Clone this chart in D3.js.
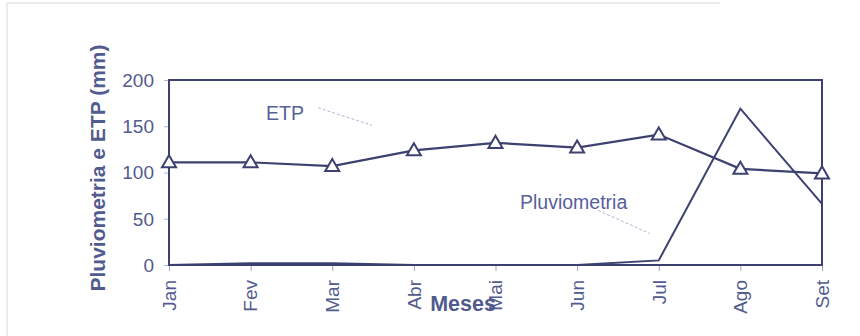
<!DOCTYPE html>
<html><head><meta charset="utf-8">
<script src="https://cdn.jsdelivr.net/npm/d3@7"></script>
<style>body{margin:0;background:#fff}svg{display:block}</style>
</head><body>
<script>
const months = ["Jan","Fev","Mar","Abr","Mai","Jun","Jul","Ago","Set"];
const etp = [111, 111, 107, 124, 132, 127, 141, 104, 99];
const pluv = [0, 2, 2, 0, 0, 0, 5, 169, 66];
const yTicks = [0, 50, 100, 150, 200];

const W = 860, H = 336;
const lineCol = "#3c4170", textCol = "#525b8e";
const font = "Liberation Sans, Arial, sans-serif";
const svg = d3.select("body").append("svg").attr("width", W).attr("height", H);

// faint scan border
svg.append("path").attr("d", "M7,336 V3 H720").attr("fill","none").attr("stroke","#e4e5ea").attr("stroke-width",1.5);

const x = d3.scalePoint().domain(months).range([169, 822]);
const y = d3.scaleLinear().domain([0, 200]).range([265, 80]);

// ticks
const gx = svg.append("g").attr("transform","translate(0,265)")
  .call(d3.axisBottom(x).tickSize(6).tickFormat(""));
gx.select(".domain").remove();
gx.selectAll("line").attr("stroke","#9aa0c0").attr("stroke-width",1);
const gy = svg.append("g").attr("transform","translate(169,0)")
  .call(d3.axisLeft(y).tickValues(yTicks).tickSize(5).tickFormat(""));
gy.select(".domain").remove();
gy.selectAll("line").attr("stroke","#b0b4cc").attr("stroke-width",1);

// frame
svg.append("rect").attr("x", x("Jan")).attr("y", y(200))
  .attr("width", x("Set") - x("Jan")).attr("height", y(0) - y(200))
  .attr("fill","none").attr("stroke", lineCol).attr("stroke-width", 2);

// y tick labels
svg.selectAll(".yl").data(yTicks).join("text")
  .attr("x", 154).attr("y", d => y(d)).attr("dy","0.36em")
  .attr("text-anchor","end").attr("font-family", font)
  .attr("font-size", 19).attr("fill", textCol).text(d => d);

// x tick labels rotated
svg.selectAll(".xl").data(months).join("text")
  .attr("transform", d => `translate(${x(d)},280) rotate(-90)`)
  .attr("dy","0.36em").attr("text-anchor","end")
  .attr("font-family", font)
  .attr("font-size", 19).attr("fill", textCol).text(d => d);

// axis titles
svg.append("text").attr("transform","translate(97,168) rotate(-90)")
  .attr("dy","0.36em").attr("text-anchor","middle")
  .attr("font-family", font).attr("font-weight","bold")
  .attr("font-size", 21).attr("fill", textCol).text("Pluviometria e ETP (mm)");
svg.append("text").attr("x", 463).attr("y", 311).attr("text-anchor","middle")
  .attr("font-family", font).attr("font-weight","bold")
  .attr("font-size", 21.5).attr("fill", textCol).text("Meses");

// lines
const line = d3.line().x((d,i) => x(months[i])).y(d => y(d));
svg.append("path").datum(pluv).attr("d", line).attr("fill","none")
  .attr("stroke", lineCol).attr("stroke-width", 2).attr("stroke-linejoin","miter");
svg.append("path").datum(etp).attr("d", line).attr("fill","none")
  .attr("stroke", lineCol).attr("stroke-width", 2.2);

// triangle markers
const tri = d3.symbol().type(d3.symbolTriangle).size(85);
svg.selectAll(".m").data(etp).join("path")
  .attr("transform", (d,i) => `translate(${x(months[i])},${y(d)+1})`)
  .attr("d", tri).attr("fill","#fff").attr("stroke", lineCol).attr("stroke-width", 2);

// annotations
const annCol = "#56609a";
svg.append("text").attr("x", 266).attr("y", y(164)).attr("dy","0.36em")
  .attr("font-family", font).attr("font-size", 19.5)
  .attr("fill", annCol).text("ETP");
svg.append("line").attr("x1", 318).attr("y1", y(170)).attr("x2", 372).attr("y2", y(151))
  .attr("stroke","#aeb6dc").attr("stroke-width",1).attr("stroke-dasharray","3,2");
svg.append("text").attr("x", 520).attr("y", y(68)).attr("dy","0.36em")
  .attr("font-family", font).attr("font-size", 19.5)
  .attr("fill", annCol).text("Pluviometria");
svg.append("line").attr("x1", 598).attr("y1", y(59)).attr("x2", 650).attr("y2", y(34))
  .attr("stroke","#aeb6dc").attr("stroke-width",1).attr("stroke-dasharray","3,2");
</script>
</body></html>
